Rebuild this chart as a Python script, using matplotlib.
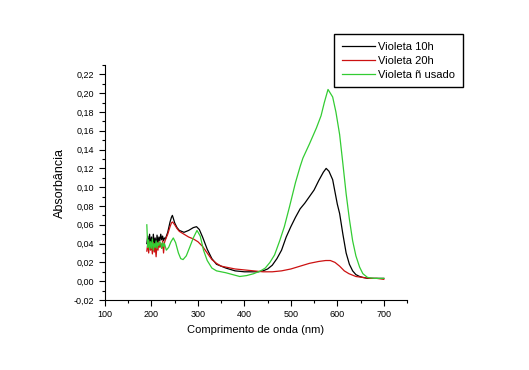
import numpy as np
import matplotlib.pyplot as plt
from matplotlib.ticker import MultipleLocator, FuncFormatter

plt.rcParams['font.family'] = ['Liberation Sans', 'DejaVu Sans']

# Violeta 10h
x_10h = [190, 192, 194, 196, 198, 200, 202, 204, 206, 208, 210, 212, 214, 216, 218, 220, 222, 224, 226, 228, 230,
         235, 240, 243, 245, 247, 250, 255, 260, 270, 280, 290, 297, 303, 310, 320, 330, 340, 350, 360, 380, 400,
         420, 430, 440, 450, 460, 470, 480, 490, 500, 510, 520, 530, 540, 550, 560, 570, 576, 582, 590, 600, 605,
         612, 619, 626, 633, 640, 648, 655, 665, 680, 690, 700]
y_10h = [0.040, 0.048, 0.036, 0.050, 0.038, 0.047, 0.034, 0.050, 0.040, 0.046, 0.036, 0.049, 0.041, 0.047, 0.043, 0.050, 0.044, 0.048, 0.043, 0.046, 0.045,
         0.052, 0.063, 0.068, 0.070, 0.067, 0.062, 0.057, 0.054, 0.052, 0.054, 0.057, 0.058, 0.055, 0.047, 0.034, 0.024, 0.018, 0.016, 0.014, 0.011, 0.010,
         0.010, 0.010, 0.011, 0.013, 0.017, 0.024, 0.033, 0.047, 0.058, 0.068, 0.077, 0.083, 0.090, 0.097, 0.107, 0.116, 0.120, 0.117, 0.108, 0.082, 0.072,
         0.050, 0.030, 0.018, 0.011, 0.007, 0.005, 0.004, 0.003, 0.003, 0.003, 0.003]

# Violeta 20h
x_20h = [190, 192, 194, 196, 198, 200, 202, 204, 206, 208, 210, 212, 214, 216, 218, 220, 222, 224, 226, 228, 230,
         235, 240, 243, 245, 247, 250, 255, 260, 270, 280, 290, 300, 310, 320, 330, 340, 350, 360, 380, 400,
         420, 440, 460, 480, 500, 520, 540, 560, 575, 585, 595, 605, 615, 625, 640, 655, 670, 685, 700]
y_20h = [0.032, 0.040, 0.030, 0.042, 0.033, 0.038, 0.029, 0.041, 0.031, 0.037, 0.026, 0.040, 0.033, 0.042, 0.036, 0.040, 0.035, 0.043, 0.030, 0.041, 0.044,
         0.050, 0.058, 0.062, 0.063, 0.062, 0.060, 0.056, 0.053, 0.050, 0.047, 0.045, 0.042, 0.037, 0.030, 0.023, 0.019, 0.016, 0.015, 0.013, 0.012,
         0.011, 0.010, 0.010, 0.011, 0.013, 0.016, 0.019, 0.021, 0.022, 0.022, 0.020, 0.016, 0.011, 0.008, 0.005, 0.004, 0.003, 0.003, 0.002]

# Violeta ñ usado
x_nu = [190, 192, 194, 196, 198, 200, 202, 204, 206, 208, 210, 212, 214, 216, 218, 220, 222, 224, 226, 228, 232,
        237, 242, 247, 252, 258, 263, 268, 275, 283, 290, 298, 305, 312, 320, 330, 340, 350, 360, 375, 390, 405,
        420, 435, 445, 455, 465, 476, 486, 497, 510, 520, 526, 540, 555, 565, 572, 580, 590, 597, 605, 612, 619,
        626, 633, 640, 648, 655, 665, 680, 690, 700]
y_nu = [0.060, 0.036, 0.044, 0.034, 0.042, 0.035, 0.045, 0.033, 0.040, 0.036, 0.043, 0.035, 0.041, 0.038, 0.042, 0.040, 0.035, 0.041, 0.037, 0.040, 0.033,
        0.036, 0.042, 0.046, 0.041, 0.030, 0.024, 0.023, 0.027, 0.037, 0.046, 0.054, 0.048, 0.033, 0.022, 0.014, 0.011, 0.010, 0.009, 0.007, 0.005, 0.006,
        0.008, 0.011, 0.014, 0.020, 0.028, 0.043, 0.058, 0.079, 0.105, 0.122, 0.131, 0.146, 0.163, 0.176, 0.190, 0.204, 0.196, 0.180, 0.156, 0.125, 0.093,
        0.066, 0.043, 0.027, 0.015, 0.008, 0.004, 0.003, 0.003, 0.003]

fig = plt.figure(figsize=(5.29, 3.70), dpi=100)
ax = fig.add_axes([105 / 529, 70 / 370, 302 / 529, 235 / 370])

ax.plot(x_10h, y_10h, color='black', lw=0.9, label='Violeta 10h')
ax.plot(x_20h, y_20h, color='#cc1111', lw=0.9, label='Violeta 20h')
ax.plot(x_nu, y_nu, color='#33cc33', lw=0.9, label='Violeta ñ usado')

ax.set_xlim(100, 750)
ax.set_ylim(-0.02, 0.23)
ax.xaxis.set_major_locator(MultipleLocator(100))
ax.xaxis.set_minor_locator(MultipleLocator(50))
ax.yaxis.set_major_locator(MultipleLocator(0.02))
ax.yaxis.set_minor_locator(MultipleLocator(0.01))
ax.yaxis.set_major_formatter(FuncFormatter(lambda v, p: f'{v:.2f}'.replace('.', ',').replace('-0,00', '0,00')))
ax.set_xticks([100, 200, 300, 400, 500, 600, 700])

ax.spines['top'].set_visible(False)
ax.spines['right'].set_visible(False)
ax.tick_params(which='both', direction='out', labelsize=6.5, width=0.8)
ax.tick_params(which='major', length=4)
ax.tick_params(which='minor', length=2)

ax.set_xlabel('Comprimento de onda (nm)', fontsize=8)
ax.set_ylabel('Absorbância', fontsize=9, labelpad=6)

fig.legend(loc='upper left', bbox_to_anchor=(334 / 529, 1 - 34 / 370), fontsize=8,
           fancybox=False, edgecolor='black', framealpha=1, handlelength=3.0,
           labelspacing=0.35, borderpad=0.7, handletextpad=0.3, borderaxespad=0)

fig.savefig('out.png', dpi=100)
